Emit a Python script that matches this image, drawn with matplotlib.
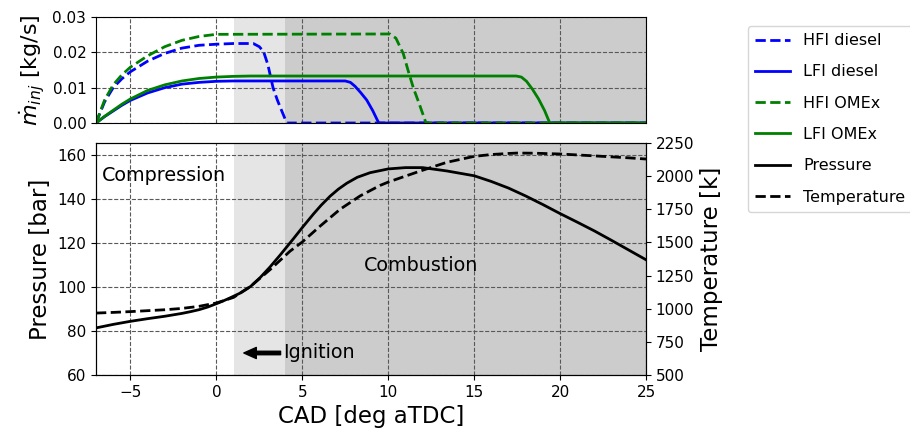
import matplotlib
matplotlib.use("Agg")
import matplotlib.pyplot as plt

# injection rate curves [kg/s] vs CAD
cad_hfi_d = [-7, -6.5, -6, -5.5, -5, -4, -3, -2, -1, 0, 1, 2.15, 2.5, 2.75, 3.0, 3.3, 3.55, 3.8, 4.1, 25]
hfi_diesel = [0, 0.0060, 0.0100, 0.0125, 0.0145, 0.0175, 0.0197, 0.0212, 0.0220, 0.0223, 0.0225, 0.0225, 0.0216, 0.0202, 0.0165, 0.0100, 0.0065, 0.0035, 0, 0]

cad_lfi_d = [-7, -6.5, -6, -5.5, -5, -4, -3, -2, -1, 0, 1, 7.5, 7.8, 8.07, 8.4, 8.75, 9.1, 9.45, 25]
lfi_diesel = [0, 0.0018, 0.0034, 0.0050, 0.0064, 0.0085, 0.0100, 0.0110, 0.0115, 0.0118, 0.0119, 0.0119, 0.0115, 0.0104, 0.0086, 0.0065, 0.0035, 0, 0]

cad_hfi_o = [-7, -6.5, -6, -5.5, -5, -4, -3, -2, -1, 0, 10.1, 10.45, 10.88, 11.15, 11.46, 11.8, 12.2, 25]
hfi_omex = [0, 0.0065, 0.0108, 0.0136, 0.0158, 0.0190, 0.0216, 0.0234, 0.0245, 0.0251, 0.0252, 0.0240, 0.0196, 0.0150, 0.0100, 0.0055, 0, 0]

cad_lfi_o = [-7, -6.5, -6, -5.5, -5, -4, -3, -2, -1, 0, 1, 2, 17.45, 17.75, 18.05, 18.4, 18.75, 19.1, 19.4, 25]
lfi_omex = [0, 0.0019, 0.0036, 0.0053, 0.0068, 0.0092, 0.0108, 0.0119, 0.0126, 0.0130, 0.0132, 0.0133, 0.0133, 0.0130, 0.0118, 0.0095, 0.0068, 0.0035, 0, 0]

# in-cylinder pressure [bar]
cad_p = [-7, -6, -5, -4, -3, -2, -1.5, -1, -0.5, 0, 0.35, 0.7, 1.38, 2.0, 2.55, 3.1, 3.71, 4.49, 5.05, 5.65, 6.1,
         6.62, 7.1, 7.59, 8.2, 8.95, 10, 11, 12, 13.4, 15, 16, 17, 18, 19, 20, 21, 22, 23, 24, 25]
pressure = [81.4, 83.0, 84.4, 85.6, 86.7, 88.0, 88.8, 89.7, 90.9, 92.4, 93.5, 94.7, 97.2, 100.3, 104.3, 108.9, 114.5,
            122.0, 127.5, 133.2, 137.2, 141.3, 144.5, 147.2, 149.9, 152.0, 153.7, 154.3, 154.3, 152.8, 150.6, 148.0,
            145.0, 141.4, 137.5, 133.4, 129.5, 125.5, 121.2, 116.8, 112.4]

# in-cylinder temperature [K]
cad_t = [-7, -6, -5, -4, -3, -2, -1, 0, 1, 1.96, 3.13, 4.29, 4.99, 6.04, 7.2, 8.37, 9.53, 10, 11, 11.9, 13.4,
         15, 16, 17, 17.5, 18.5, 20, 21, 22.5, 24, 25]
temperature = [967, 972, 978, 985, 992, 1002, 1018, 1043, 1085, 1165, 1295, 1434, 1502, 1623, 1750, 1851, 1930,
               1955, 2000, 2040, 2104, 2149, 2163, 2171, 2174, 2173, 2167, 2160, 2149, 2138, 2129]

xlim = (-7, 25)
ign_start, comb_start = 1, 4

fig = plt.figure(figsize=(9.1, 4.32), dpi=100)
ax1 = fig.add_axes([0.1055, 0.7153, 0.6044, 0.2453])
ax2 = fig.add_axes([0.1055, 0.132, 0.6044, 0.537], sharex=ax1)
ax3 = ax2.twinx()

lw = 2.0
for ax in (ax1, ax2):
    ax.axvspan(ign_start, comb_start, color='#e5e5e5', lw=0, zorder=0)
    ax.axvspan(comb_start, xlim[1], color='#cccccc', lw=0, zorder=0)
    ax.grid(True, ls='--', color='0.35', lw=0.8)

l1, = ax1.plot(cad_hfi_d, hfi_diesel, '--', color='blue', lw=lw, label='HFI diesel')
l2, = ax1.plot(cad_lfi_d, lfi_diesel, '-', color='blue', lw=lw, label='LFI diesel')
l3, = ax1.plot(cad_hfi_o, hfi_omex, '--', color='green', lw=lw, label='HFI OMEx')
l4, = ax1.plot(cad_lfi_o, lfi_omex, '-', color='green', lw=lw, label='LFI OMEx')
ax1.set_ylim(0, 0.03)
ax1.set_yticks([0, 0.01, 0.02, 0.03])
ax1.set_ylabel(r'$\dot{m}_{inj}$ [kg/s]', fontsize=16)
ax1.tick_params(labelbottom=False, bottom=False, labelsize=11)

l5, = ax2.plot(cad_p, pressure, '-', color='black', lw=lw, label='Pressure')
l6, = ax3.plot(cad_t, temperature, '--', color='black', lw=lw, label='Temperature')
ax2.set_xlim(*xlim)
ax2.set_ylim(60, 165.5)
ax2.set_yticks([60, 80, 100, 120, 140, 160])
ax3.set_ylim(500, 2250)
ax3.set_yticks([500, 750, 1000, 1250, 1500, 1750, 2000, 2250])
ax2.set_ylabel('Pressure [bar]', fontsize=16.5)
ax3.set_ylabel('Temperature [k]', fontsize=16.5)
ax2.set_xlabel('CAD [deg aTDC]', fontsize=16.5)
ax2.tick_params(labelsize=11)
ax3.tick_params(labelsize=11)

ax2.text(-6.65, 150.5, 'Compression', fontsize=13.8, va='center', ha='left')
ax2.text(8.6, 110, 'Combustion', fontsize=13.8, va='center', ha='left')
ax2.annotate('Ignition', xy=(1.6, 70), xytext=(3.9, 70), fontsize=13.8, va='center', ha='left',
             arrowprops=dict(facecolor='black', edgecolor='black', width=2.5, headwidth=8, headlength=9, shrink=0.0))

fig.legend(handles=[l1, l2, l3, l4, l5, l6], loc='upper left', bbox_to_anchor=(0.822, 0.94),
           borderaxespad=0, fontsize=11.5, labelspacing=1.02, handlelength=2.2, handletextpad=0.8,
           borderpad=0.45)

fig.savefig('out.png', dpi=100)
